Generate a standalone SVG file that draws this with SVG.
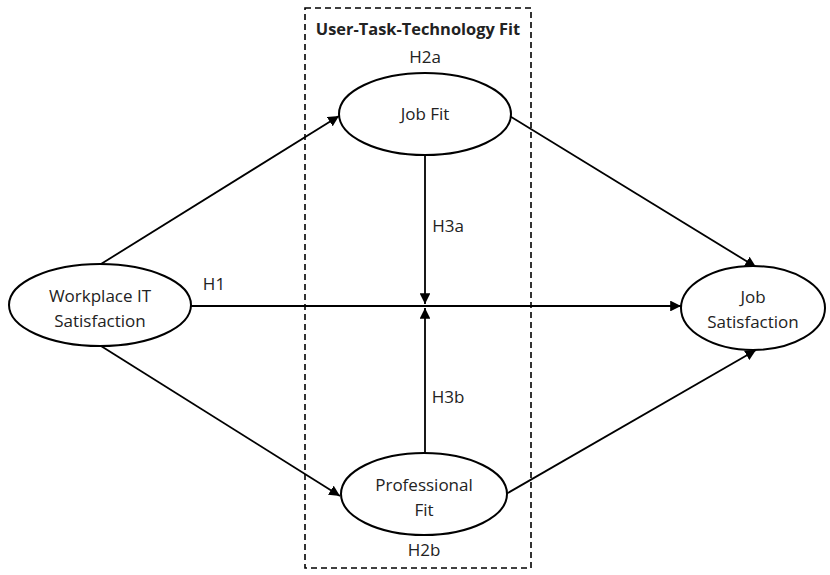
<svg xmlns="http://www.w3.org/2000/svg" width="830" height="575" viewBox="0 0 830 575">
<style>
.n{fill:#fff;stroke:#000;stroke-width:2}
.t{font-family:"Open Sans","Liberation Sans",sans-serif;font-size:17px;fill:#222;text-anchor:middle}
.b{font-weight:bold;font-size:16.4px}
.c{stroke:#000;stroke-width:1.8;fill:none;marker-end:url(#a)}
</style>
<defs>
<marker id="a" viewBox="0 0 10 10" refX="10" refY="5" markerWidth="6" markerHeight="6" orient="auto" markerUnits="strokeWidth">
<path d="M0,0 L10,5 L0,10 z" fill="#000"/>
</marker>
</defs>
<rect width="830" height="575" fill="#fff"/>
<g id="box">
<rect x="305" y="8" width="226" height="560" fill="none" stroke="#000" stroke-width="1.6" stroke-dasharray="6,4"/>
<text class="t b" x="418" y="35">User-Task-Technology Fit</text>
</g>
<g id="connectors">
<line class="c" x1="101" y1="264" x2="339" y2="116"/>
<line class="c" x1="101" y1="346" x2="340" y2="496"/>
<line class="c" x1="190" y1="306" x2="681" y2="306"/>
<line class="c" x1="508" y1="115" x2="756" y2="267"/>
<line class="c" x1="506" y1="494" x2="756" y2="350"/>
<line class="c" x1="425" y1="155" x2="425" y2="304"/>
<line class="c" x1="425" y1="453" x2="425" y2="308"/>
</g>
<g id="labels">
<text class="t" x="425" y="63">H2a</text>
<text class="t" x="448" y="232">H3a</text>
<text class="t" x="214" y="290">H1</text>
<text class="t" x="448" y="403">H3b</text>
<text class="t" x="424" y="556">H2b</text>
</g>
<g id="workplace">
<ellipse class="n" cx="100" cy="305" rx="91" ry="41"/>
<text class="t" x="100" y="302">Workplace IT</text>
<text class="t" x="100" y="327">Satisfaction</text>
</g>
<g id="jobfit">
<ellipse class="n" cx="425" cy="114" rx="86" ry="41"/>
<text class="t" x="425" y="120">Job Fit</text>
</g>
<g id="proffit">
<ellipse class="n" cx="424" cy="494" rx="83" ry="41"/>
<text class="t" x="424" y="491">Professional</text>
<text class="t" x="424" y="516">Fit</text>
</g>
<g id="jobsat">
<ellipse class="n" cx="753" cy="308" rx="72" ry="42"/>
<text class="t" x="753" y="303">Job</text>
<text class="t" x="753" y="328">Satisfaction</text>
</g>
</svg>
